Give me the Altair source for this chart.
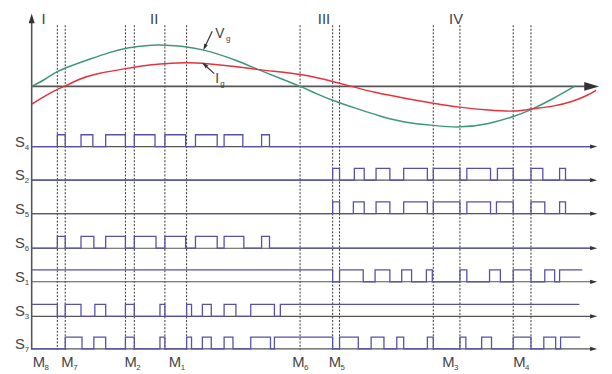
import altair as alt
import pandas as pd

# ---------------- data (time t in arbitrary units, origin at the vertical axis) ----------------
# top panel: grid voltage Vg and grid current Ig (value above the time axis)
vg_t = [0, 13, 26, 43, 60, 78, 95, 113, 128, 145, 157, 173, 188, 208, 230, 251, 272, 288, 305, 328, 353, 378,
        407, 434, 463, 488, 506, 528, 550]
vg_v = [0, 7, 15, 22, 28, 34, 38.5, 41, 42, 41.3, 40, 37, 33, 26, 17, 8.5, 0, -7, -14, -22, -30, -36,
        -39.5, -41, -37.5, -30.5, -23.5, -12.5, 0]
ig_t = [0, 13, 26, 33, 48, 68, 95, 118, 135, 157, 178, 203, 230, 253, 272, 288, 305, 324, 348, 378, 407,
        434, 463, 488, 506, 528, 548, 563, 572]
ig_v = [-18, -10, -3, 0, 7, 13, 18, 21.5, 23, 24, 23, 20.5, 17, 14.5, 12, 9, 5, 0, -6, -12, -17,
        -21, -24, -25, -23, -20, -15, -9, -4]

# switching instants (dotted lines)
dashed_t = [26, 34, 95, 104, 135, 157, 272, 305, 312, 407, 434, 488, 506]

# gate signals: high intervals and end of trace
rows = ["S4", "S2", "S5", "S6", "S1", "S3", "S7"]
high = {
    "S4": [(26, 34), (50, 62), (75, 95), (104, 125), (135, 156), (166, 188), (195, 214), (233, 241)],
    "S2": [(305, 312), (327, 337), (349, 363), (377, 401), (407, 434), (441, 465), (472, 488), (506, 518), (535, 541)],
    "S5": [(305, 312), (326, 337), (349, 363), (377, 401), (407, 434), (441, 465), (471, 488), (506, 520), (535, 541)],
    "S6": [(26, 34), (50, 63), (75, 95), (104, 126), (135, 156), (166, 188), (195, 215), (233, 241)],
    "S1": [(0, 305), (312, 336), (348, 363), (375, 385), (400, 406), (434, 441), (464, 475), (488, 506), (520, 530), (535, 558)],
    "S3": [(0, 26), (34, 50), (64, 75), (95, 104), (130, 135), (157, 162), (173, 182), (195, 207), (222, 246), (252, 555)],
    "S7": [(34, 51), (63, 75), (95, 104), (130, 135), (157, 162), (173, 182), (195, 204), (222, 242), (246, 305),
           (312, 331), (344, 357), (370, 377), (401, 407), (434, 440), (456, 466), (488, 506), (519, 531), (536, 556)],
}
trace_end = {"S4": 566, "S2": 566, "S5": 566, "S6": 566, "S1": 558, "S3": 555, "S7": 556}

row_names = {"S4": ("S", "4"), "S2": ("S", "2"), "S5": ("S", "5"), "S6": ("S", "6"),
             "S1": ("S", "1"), "S3": ("S", "3"), "S7": ("S", "7")}
mode_labels = ["I", "II", "III", "IV"]
mode_t = [10, 120, 290, 423]
m_labels = [("M", "8"), ("M", "7"), ("M", "2"), ("M", "1"), ("M", "6"), ("M", "5"), ("M", "3"), ("M", "4")]
m_t = [1, 30, 94, 139, 264, 301, 416, 488]

# ---------------- layout ----------------
AX_Y = 85
ROW_Y = {"S4": 146, "S2": 180, "S5": 214, "S6": 249, "S1": 283, "S3": 318, "S7": 351}
PULSE = 12
BLUE = "#5650a8"
GRAY = "#555555"

xs = alt.Scale(domain=[-32, 580], range=[0, 612])
ys = alt.Scale(domain=[0, 374], range=[0, 374])
X = lambda f: alt.X(f, type="quantitative", scale=xs, axis=None)
Y = lambda f: alt.Y(f, type="quantitative", scale=ys, axis=None)

# curves
vg_df = pd.DataFrame({"t": vg_t, "y": [AX_Y - v for v in vg_v]})
ig_df = pd.DataFrame({"t": ig_t, "y": [AX_Y - v for v in ig_v]})
vg_line = alt.Chart(vg_df).mark_line(interpolate="natural", strokeWidth=1.5, color="#3f977b").encode(
    x=X("t"), y=Y("y")
)
ig_line = alt.Chart(ig_df).mark_line(interpolate="natural", strokeWidth=1.5, color="#e5323c").encode(
    x=X("t"), y=Y("y")
)

# step signals
sig_rows = []
for r in rows:
    base = ROW_Y[r]
    iv = high[r]
    pts = []
    if iv[0][0] > 0:
        pts.append((0, base))
    for a, b in iv:
        pts.append((a, base - PULSE))
        pts.append((b, base))
    if iv[-1][1] >= trace_end[r]:
        pts[-1] = (trace_end[r], base - PULSE)
    else:
        pts.append((trace_end[r], base))
    for i, (t, y) in enumerate(pts):
        sig_rows.append({"row": r, "t": t, "y": y, "i": i})
sig_df = pd.DataFrame(sig_rows)
signals = alt.Chart(sig_df).mark_line(interpolate="step-after", strokeWidth=1.3, color=BLUE).encode(
    x=X("t"), y=Y("y"), detail="row:N", order="i:Q"
)

# axes lines
ax_rows = [{"t": 0, "t2": 562, "y": AX_Y, "y2": AX_Y, "w": 1.6}, {"t": 0, "t2": 0, "y": 18, "y2": 352, "w": 1.6}]
for r in rows:
    ax_rows.append({"t": 0, "t2": 568, "y": ROW_Y[r], "y2": ROW_Y[r], "w": 1.2})
ax_df = pd.DataFrame(ax_rows)
axes = alt.Chart(ax_df).mark_rule(color=GRAY).encode(
    x=X("t"), x2="t2:Q", y=Y("y"), y2="y2:Q", strokeWidth=alt.StrokeWidth("w:Q", scale=None)
)

# dotted lines
dash_df = pd.DataFrame({"t": dashed_t, "y": [23] * len(dashed_t), "y2": [352] * len(dashed_t)})
dashed = alt.Chart(dash_df).mark_rule(color="#333333", strokeDash=[2, 1.6], strokeWidth=1).encode(
    x=X("t"), y=Y("y"), y2="y2:Q"
)

# arrow heads
UP = "M0,-1 L-0.6,1 L0.6,1 Z"
head_rows = [
    {"t": 567.5, "y": AX_Y, "sz": 225, "a": 90},
    {"t": 0, "y": 16, "sz": 100, "a": 0},
    {"t": 175.3, "y": 45.3, "sz": 42, "a": 205},
    {"t": 175.2, "y": 63.0, "sz": 42, "a": 312},
]
for r in rows:
    head_rows.append({"t": 569.5, "y": ROW_Y[r], "sz": 52, "a": 90})
head_df = pd.DataFrame(head_rows)
heads = alt.Chart(head_df).mark_point(shape=UP, filled=True, opacity=1, color="#333333", strokeWidth=0).encode(
    x=X("t"), y=Y("y"), size=alt.Size("sz:Q", scale=None), angle=alt.Angle("a:Q", scale=None)
)

# label arrow shafts
shaft_df = pd.DataFrame([{"t": 183, "t2": 175, "y": 29, "y2": 46}, {"t": 185, "t2": 174, "y": 72, "y2": 62}])
shafts = alt.Chart(shaft_df).mark_rule(color="#333333", strokeWidth=1.2).encode(
    x=X("t"), x2="t2:Q", y=Y("y"), y2="y2:Q"
)

# texts
txt = []
for t, s in zip(mode_t, mode_labels):
    txt.append({"t": t, "y": 22, "s": s, "sz": 15})
for (m, sub), t in zip(m_labels, m_t):
    txt.append({"t": t, "y": 369, "s": m, "sz": 15})
    txt.append({"t": t + 12, "y": 372, "s": sub, "sz": 8})
for r in rows:
    m, sub = row_names[r]
    txt.append({"t": -17, "y": ROW_Y[r], "s": m, "sz": 15})
    txt.append({"t": -7, "y": ROW_Y[r] + 3, "s": sub, "sz": 8})
txt += [
    {"t": 186, "y": 36, "s": "V", "sz": 14},
    {"t": 197, "y": 39, "s": "g", "sz": 8},
    {"t": 186, "y": 82, "s": "I", "sz": 14},
    {"t": 191, "y": 85, "s": "g", "sz": 8},
]
txt_df = pd.DataFrame(txt)
texts = alt.Chart(txt_df).mark_text(align="left", baseline="alphabetic", font="Liberation Sans", color="#444444").encode(
    x=X("t"), y=Y("y"), text="s:N", size=alt.Size("sz:Q", scale=None)
)

chart = alt.layer(dashed, axes, vg_line, ig_line, signals, shafts, heads, texts).properties(
    width=612, height=374, autosize="none",
    padding={"left": -8, "top": -8, "right": 0, "bottom": 0},
).configure_view(stroke=None)

chart.save("out.html", embed_options={"renderer": "svg", "actions": False})
